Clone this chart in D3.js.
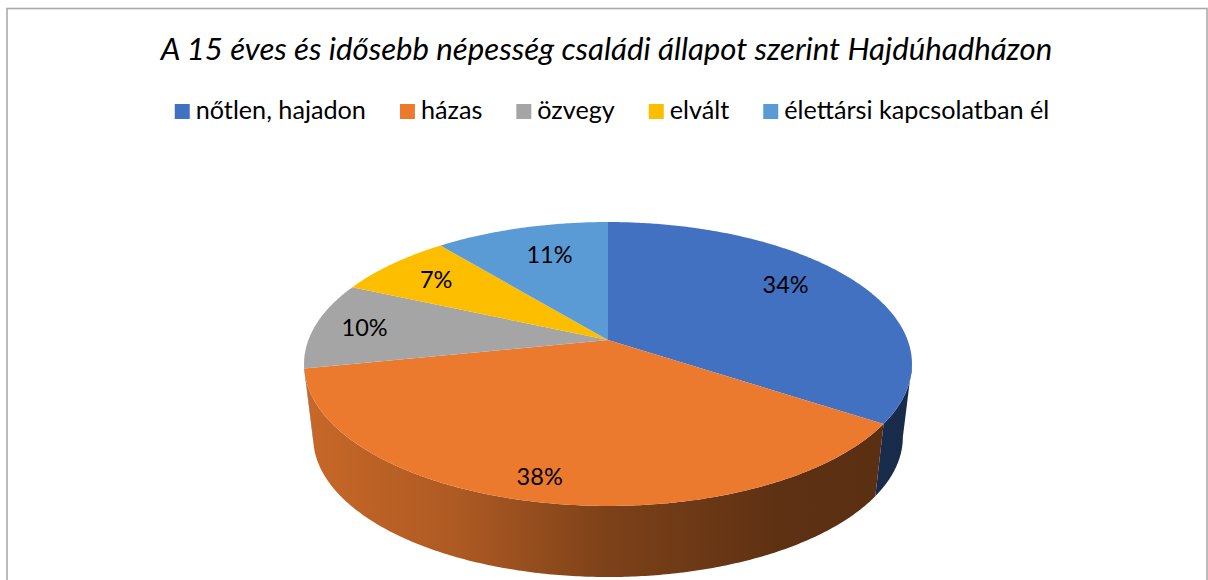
<!DOCTYPE html>
<html>
<head>
<meta charset="utf-8">
<script src="https://cdn.jsdelivr.net/npm/d3@7"></script>
<style>
  body { margin: 0; background: #fff; }
  svg { display: block; }
  text { font-family: Lato, "Open Sans", sans-serif; fill: #000; }
</style>
</head>
<body>
<div class="canvas"></div>
<script>
const titleText = 'A 15 éves és idősebb népesség családi állapot szerint Hajdúhadházon';
const categories = ['nőtlen, hajadon', 'házas', 'özvegy', 'elvált', 'élettársi kapcsolatban él'];
const values = [34.3, 37.5, 9.9, 7.4, 10.9];
const colors = ['#4371c2', '#eb7a2f', '#a5a5a5', '#fdbe00', '#5b9bd5'];

// where each label sits inside its slice (0-1 of the radius, degrees off the middle)
const labelRadius = [0.77, 0.87, 0.83, 0.78, 0.72];
const labelTurn = [-6, 2, 0, 0, 2];

// side shading from left to right
const shadeStops = [0, 0.25, 0.5, 0.78, 1];
const shades = [0.85, 0.74, 0.53, 0.4, 0.38];

const width = 1208;
const height = 580;
const tilt = -0.169;

const svg = d3.select('.canvas').append('svg')
    .attr('width', width)
    .attr('height', height);

svg.append('rect')
    .attr('x', 7)
    .attr('y', 8.5)
    .attr('width', 1200)
    .attr('height', 620)
    .attr('fill', '#fff')
    .attr('stroke', '#ababab')
    .attr('stroke-width', 1.6);

svg.append('text')
    .attr('x', 606.5)
    .attr('y', 60)
    .attr('text-anchor', 'middle')
    .attr('font-style', 'italic')
    .attr('font-size', 31.2)
    .text(titleText);

// legend: measured first, then centred
const legendFontSize = 25.2;
const legendGap = 34;
const legend = svg.append('g');
let legendX = 0;
categories.forEach((name, i) => {
    legend.append('rect')
        .attr('x', legendX)
        .attr('y', 104)
        .attr('width', 15)
        .attr('height', 15)
        .attr('fill', colors[i]);
    const label = legend.append('text')
        .attr('x', legendX + 21)
        .attr('y', 119)
        .attr('font-size', legendFontSize)
        .text(name);
    legendX += 21 + label.node().getComputedTextLength() + legendGap;
});
legend.attr('transform', `translate(${612 - (legendX - legendGap) / 2}, 0)`);

// perspective: a unit circle onto the tilted disc
function project(a, r, face) {
    const u = Math.sin(a) * r;
    const v = -Math.cos(a) * r;
    const w = 1 + tilt * v;
    return [608 + face.rx * u / w, face.cy + face.ry * v / w];
}
const topFace = { rx: 299.6, ry: 137.9, cy: 340 };
const bottomFace = { rx: 290.6, ry: 135.8, cy: 413.6 };
const visibleStart = Math.PI / 2 + 0.17;
const visibleEnd = Math.PI * 2 - visibleStart;

const pie = d3.pie().sort(null).value(d => d);
const slices = pie(values);
const line = d3.line();

function edgeAngles(a0, a1) {
    const steps = Math.max(2, Math.ceil((a1 - a0) / 0.01));
    return d3.range(steps + 1).map(i => a0 + (a1 - a0) * i / steps);
}

const defs = svg.append('defs');
const sides = svg.append('g');
slices.forEach((s, i) => {
    const a0 = Math.max(s.startAngle, visibleStart);
    const a1 = Math.min(s.endAngle, visibleEnd);
    if (a1 <= a0) return;
    const grad = defs.append('linearGradient')
        .attr('id', 'side' + i)
        .attr('gradientUnits', 'userSpaceOnUse')
        .attr('x1', 304)
        .attr('x2', 911)
        .attr('y1', 0)
        .attr('y2', 0);
    const base = d3.rgb(colors[i]);
    shadeStops.forEach((stop, j) => {
        grad.append('stop')
            .attr('offset', stop)
            .attr('stop-color', d3.rgb(base.r * shades[j], base.g * shades[j], base.b * shades[j]).formatHex());
    });
    const angles = edgeAngles(a0, a1);
    const upper = angles.map(a => project(a, 1, topFace));
    const lower = angles.map(a => project(a, 1, bottomFace)).reverse();
    sides.append('path')
        .attr('d', line(upper.concat(lower)) + 'Z')
        .attr('fill', `url(#side${i})`);
});

svg.append('g').selectAll('path')
    .data(slices)
    .join('path')
    .attr('d', s => line([project(0, 0, topFace)].concat(edgeAngles(s.startAngle, s.endAngle).map(a => project(a, 1, topFace)))) + 'Z')
    .attr('fill', (s, i) => colors[i]);

svg.append('g').selectAll('text')
    .data(slices)
    .join('text')
    .attr('transform', (s, i) => {
        const mid = (s.startAngle + s.endAngle) / 2 + labelTurn[i] * Math.PI / 180;
        return `translate(${project(mid, labelRadius[i], topFace)})`;
    })
    .attr('text-anchor', 'middle')
    .attr('dy', '0.35em')
    .attr('font-size', 23.5)
    .text(s => d3.format('.0f')(s.value) + '%');
</script>
</body>
</html>
